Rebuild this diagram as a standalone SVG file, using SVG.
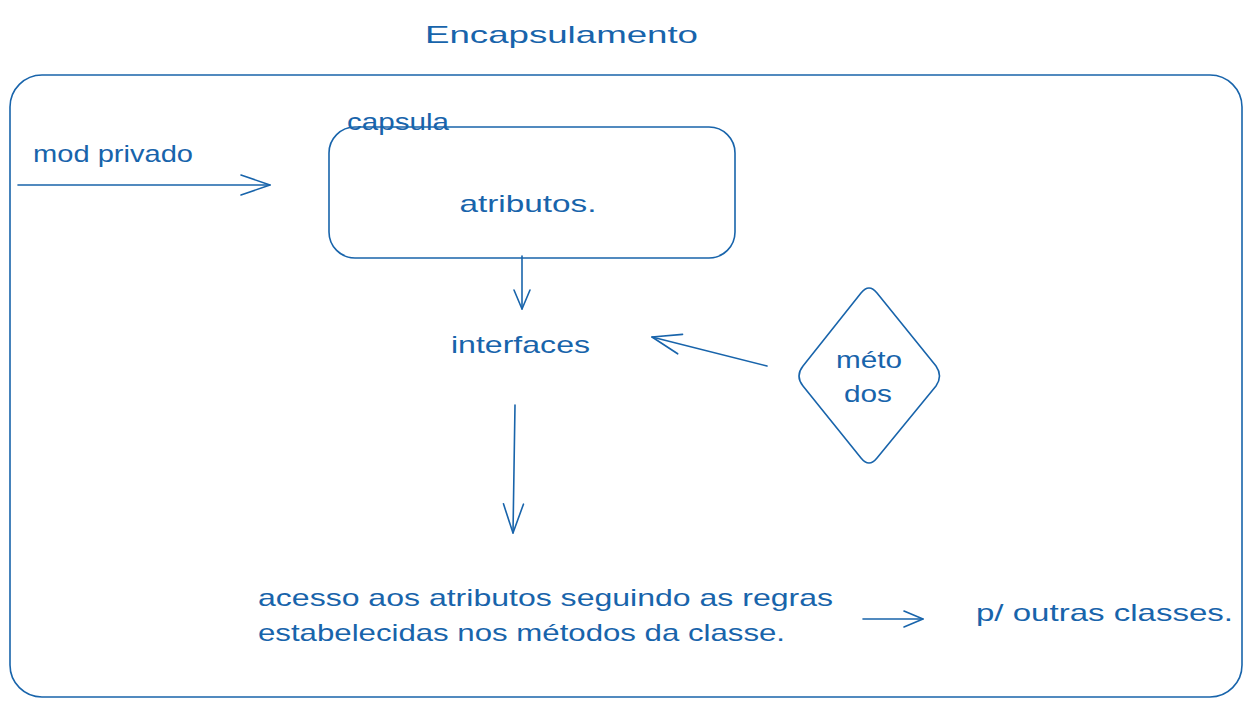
<svg xmlns="http://www.w3.org/2000/svg" width="1252" height="707" viewBox="0 0 1252 707">
<style>
.s{fill:none;stroke:#1864ab;stroke-width:1.6;stroke-linecap:round;stroke-linejoin:round}
.t{fill:#1864ab;font-family:"Liberation Sans","DejaVu Sans",sans-serif;font-size:24px}
.c{text-anchor:middle}
</style>
<defs>
<marker id="a" markerUnits="userSpaceOnUse" viewBox="-31 -12 33 24" refX="0" refY="0" markerWidth="33" markerHeight="24" orient="auto">
<path d="M-29,-10 L0,0 L-29,10" fill="none" stroke="#1864ab" stroke-width="1.6" stroke-linecap="round" stroke-linejoin="round"/>
</marker>
<marker id="b" markerUnits="userSpaceOnUse" viewBox="-22 -10 24 20" refX="0" refY="0" markerWidth="24" markerHeight="20" orient="auto">
<path d="M-19,-8 L0,0 L-19,8" fill="none" stroke="#1864ab" stroke-width="1.6" stroke-linecap="round" stroke-linejoin="round"/>
</marker>
</defs>
<rect width="1252" height="707" fill="#ffffff"/>
<g id="title"><text class="t" x="425" y="43" font-size="33" textLength="273" lengthAdjust="spacingAndGlyphs">Encapsulamento</text></g>
<g id="frame"><rect class="s" x="10" y="75" width="1232" height="622" rx="32"/></g>
<g id="modprivado"><text class="t" x="33" y="162" textLength="160" lengthAdjust="spacingAndGlyphs">mod privado</text></g>
<g id="capsula-label"><text class="t" x="347" y="130" textLength="102" lengthAdjust="spacingAndGlyphs">capsula</text></g>
<g id="capsula"><rect class="s" x="329" y="127" width="406" height="131" rx="26"/>
<text class="t c" x="528" y="212" textLength="137" lengthAdjust="spacingAndGlyphs">atributos.</text></g>
<g id="interfaces"><text class="t" x="451" y="353" textLength="139" lengthAdjust="spacingAndGlyphs">interfaces</text></g>
<g id="metodos"><path class="s" d="M861,293 Q869,283 877,293 L936,366 Q943,376 936,386 L877,458 Q869,468 861,458 L803,386 Q795,376 803,366 Z"/>
<text class="t c" x="869" y="368" textLength="66" lengthAdjust="spacingAndGlyphs">méto</text>
<text class="t c" x="868" y="402" textLength="48" lengthAdjust="spacingAndGlyphs">dos</text></g>
<g id="acesso"><text class="t" x="258" y="606" textLength="575" lengthAdjust="spacingAndGlyphs">acesso aos atributos seguindo as regras</text>
<text class="t" x="258" y="641" textLength="527" lengthAdjust="spacingAndGlyphs">estabelecidas nos métodos da classe.</text></g>
<g id="outras"><text class="t" x="976" y="621" textLength="257" lengthAdjust="spacingAndGlyphs">p/ outras classes.</text></g>
<g id="connectors">
<line class="s" x1="18" y1="185" x2="270" y2="185" marker-end="url(#a)"/>
<line class="s" x1="522" y1="256" x2="522" y2="309" marker-end="url(#b)"/>
<line class="s" x1="767" y1="366" x2="652" y2="337" marker-end="url(#a)"/>
<line class="s" x1="515" y1="405" x2="513" y2="533" marker-end="url(#a)"/>
<line class="s" x1="863" y1="619" x2="923" y2="619" marker-end="url(#b)"/>
</g>
</svg>
